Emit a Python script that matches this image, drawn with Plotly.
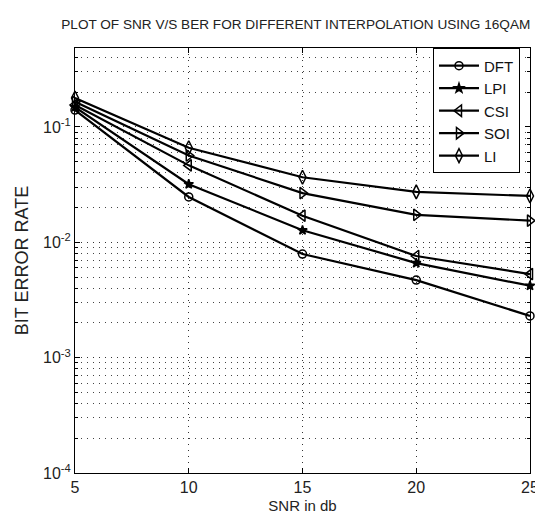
import plotly.graph_objects as go

snr = [5, 10, 15, 20, 25]
ber_dft = [0.140, 0.0247, 0.0079, 0.0047, 0.0023]
ber_lpi = [0.148, 0.0319, 0.0127, 0.0066, 0.0042]
ber_csi = [0.155, 0.0464, 0.0170, 0.0076, 0.0053]
ber_soi = [0.165, 0.0565, 0.0267, 0.0173, 0.0154]
ber_li = [0.178, 0.0660, 0.0366, 0.0273, 0.0252]

series = [
    ("DFT", ber_dft, "circle-open", 8),
    ("LPI", ber_lpi, "star", 7),
    ("CSI", ber_csi, "triangle-left-open", 10),
    ("SOI", ber_soi, "triangle-right-open", 10),
    ("LI", ber_li, "diamond-tall-open", 10),
]

y_major = [1e-4, 1e-3, 1e-2, 1e-1]
y_major_text = ["10<sup>-4</sup>", "10<sup>-3</sup>", "10<sup>-2</sup>", "10<sup>-1</sup>"]
y_minor = [m * 10.0 ** e for e in range(-4, 0) for m in range(2, 10)]
x_ticks = [5, 10, 15, 20, 25]

FONT = "Liberation Sans, Arial, sans-serif"

fig = go.Figure()
for name, vals, sym, sz in series:
    fig.add_trace(go.Scatter(
        x=snr, y=vals, name=name, mode="lines+markers", cliponaxis=False,
        line=dict(color="black", width=2.2),
        marker=dict(symbol=sym, size=sz, color="black",
                    line=dict(color="black", width=1.5)),
    ))

fig.update_layout(
    width=543, height=516,
    margin=dict(l=67, r=16, t=40, b=46),
    paper_bgcolor="white", plot_bgcolor="white",
    font=dict(family=FONT, size=14, color="#222"),
    title=dict(text="PLOT OF SNR V/S BER FOR DIFFERENT INTERPOLATION USING 16QAM",
               x=0.530, xanchor="center", y=0.968, yanchor="middle",
               font=dict(family=FONT, size=13.6, color="#222")),
    showlegend=True,
    legend=dict(x=0.978, xanchor="right", y=0.999, yanchor="top",
                bgcolor="white", bordercolor="black", borderwidth=1,
                font=dict(family=FONT, size=15, color="#111"),
                tracegroupgap=0, itemwidth=40),
)

fig.update_xaxes(
    range=[5, 25], tickvals=x_ticks, ticks="inside", ticklen=5,
    tickcolor="black", showline=True, linecolor="black", linewidth=1,
    mirror="ticks", showgrid=True, gridcolor="#333", griddash="1px,5px",
    gridwidth=1, zeroline=False, tickfont=dict(size=16),
    title=dict(text="SNR in db", standoff=5, font=dict(size=15)),
)

fig.update_yaxes(
    type="log", range=[-4, -0.316], tickvals=y_major, ticktext=y_major_text,
    ticks="inside", ticklen=5, tickcolor="black", showline=True,
    linecolor="black", linewidth=1, mirror="ticks",
    showgrid=True, gridcolor="#333", griddash="1px,5px", gridwidth=1,
    zeroline=False, tickfont=dict(size=16),
    minor=dict(tickvals=y_minor, ticks="inside", ticklen=3, tickcolor="black",
               showgrid=True, gridcolor="#444", griddash="1px,5px", gridwidth=1),
    title=dict(text="BIT ERROR RATE", standoff=9, font=dict(size=18)),
)

fig.write_html("out.html")
